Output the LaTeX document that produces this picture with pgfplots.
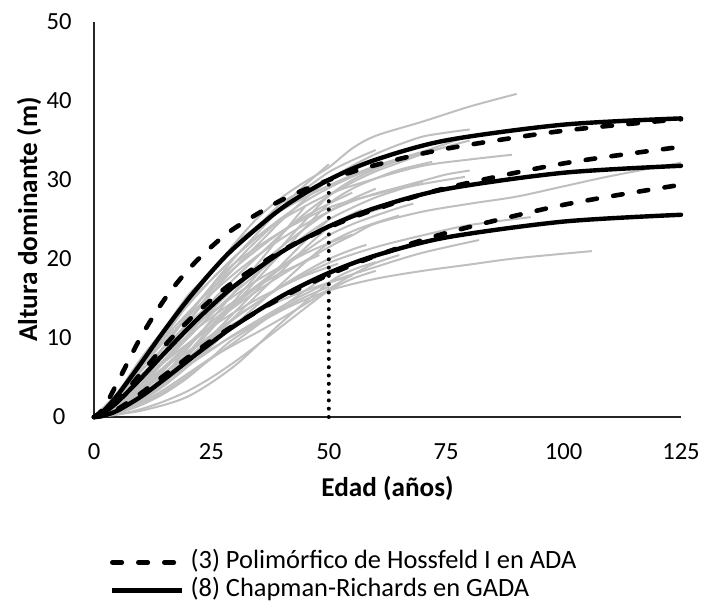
\documentclass[border=0pt]{standalone}
\usepackage{fontspec}
\setmainfont{Carlito}
\usepackage{pgfplots}
\pgfplotsset{compat=1.18}
\definecolor{grisc}{RGB}{191,191,191}
\begin{document}
\begin{tikzpicture}
\begin{axis}[
 at={(0,0)}, anchor=origin,
 scale only axis, width=293.5pt, height=197.5pt,
 xmin=0, xmax=125, ymin=0, ymax=50,
 axis x line=bottom, axis y line=left,
 axis line style={-, line width=0.8pt, black!85},
 xtick={0,25,...,125}, ytick={0,10,...,50},
 major tick length=0pt,
 /pgf/number format/assume math mode=true,
 ticklabel style={font=\fontsize{12.3}{15}\selectfont},
 xticklabel style={anchor=center, yshift=-17.5pt},
 yticklabel style={anchor=center, xshift=-17.5pt},
 xlabel={Edad (años)}, ylabel={Altura dominante (m)},
 label style={font=\bfseries\fontsize{13.6}{15}\selectfont},
 xlabel style={at={(axis description cs:0.5,-0.1797)}, anchor=center},
 ylabel style={at={(axis description cs:-0.1107,0.5)}, anchor=center},
 clip=false,
 legend style={at={(axis description cs:0.0273,-0.4036)}, anchor=west, draw=none, fill=none,
   inner sep=0pt, outer sep=0pt, font=\fontsize{13.2}{15}\selectfont, row sep=2pt,
   nodes={inner sep=0pt, text height=9pt, text depth=3pt},
   /tikz/every odd column/.append style={column sep=3pt}},
 legend cell align=left,
 legend image code/.code={\draw[#1] (0pt,0pt) -- (35pt,0pt);},
 gr/.style={grisc, line width=1pt, smooth, forget plot},
 hos/.style={black, line width=2.3pt, line cap=round, dash pattern=on 4.75pt off 8.25pt, smooth},
 cr/.style={black, line width=2.2pt, line cap=round, smooth},
]
% ---- individual profiles (grey) ----
\addplot[gr] coordinates {(0,0)(5,2.6)(10,6.3)(15,10.2)(20,14.3)(25,18.2)(30,22)(35,25.3)(40,27.8)(45,29.8)(50,31.6)(55,34)(60,35.6)(70,37.4)(80,39.3)(90,40.9)};
\addplot[gr] coordinates {(0,0)(5,3)(10,7)(15,11)(20,15)(25,18.5)(30,21.5)(35,24)(40,26.2)(50,29.3)(60,31.8)(70,33.6)(80,35.6)};
\addplot[gr] coordinates {(0,0)(5,1.5)(10,4.5)(15,8)(20,12)(25,16)(30,19.5)(35,22.5)(40,25)(50,28.2)(60,30.2)(70,31.8)(80,32.6)(89,33.2)};
\addplot[gr] coordinates {(0,0)(5,2)(10,5)(15,9)(20,13)(25,16.5)(30,19.5)(40,23.5)(50,26.5)(60,28.2)(70,29.5)(79,30.4)};
\addplot[gr] coordinates {(0,0)(5,1)(10,3)(15,6)(20,9)(25,11.5)(30,14)(40,18)(50,21.5)(55,23)(60,24.5)(70,26)(80,27)(90,27.9)(100,29.2)(110,30.5)(125,32.2)};
\addplot[gr] coordinates {(0,0)(5,1)(10,2.5)(15,5)(20,7.5)(25,10)(30,12.5)(40,16.5)(50,19.5)(60,21.5)(70,23)(80,24.3)(93,25.3)};
\addplot[gr] coordinates {(0,0)(5,0.5)(10,1.5)(15,3)(20,5)(25,7.5)(30,10)(40,13.5)(50,16)(60,17.5)(70,18.5)(80,19.3)(90,20.1)(106,21)};
\addplot[gr] coordinates {(0,0)(5,0.8)(10,2.5)(15,4.5)(20,6.5)(25,8.5)(30,10.5)(40,14)(50,17)(60,19)(70,20.8)(82,22.4)};
\addplot[gr] coordinates {(0,0)(10,0.8)(20,2.6)(30,6.5)(40,12)(50,17)(55,18.6)(60,19.6)};
\addplot[gr] coordinates {(0,0)(5,0.3)(10,1)(15,2)(20,3.3)(25,5)(30,7)(35,9.2)(40,11.5)(45,13.8)(50,16)(55,17.5)(60,18.5)};
\addplot[gr] coordinates {(0,0)(5,0.6)(10,1.8)(15,3.5)(20,5.5)(25,7.5)(30,9.2)(35,10.8)(40,12.5)(45,14.3)(50,16.2)(55,18)(60,19.5)(65,20.5)};
\addplot[gr] coordinates {(0,0)(5,3.1)(10,7.4)(15,11.2)(20,15.4)(25,18.4)(30,21.9)(35,24.3)(40,27.1)(45,28.9)(50,31)(55,32.5)(60,33.8)};
\addplot[gr] coordinates {(0,0)(5,1.8)(10,4.8)(15,8.4)(20,12)(25,15.6)(30,18.9)(35,21.9)(40,24.9)(45,27.6)(50,30)(55,31.8)(60,33.3)(65,34.5)(70,35.5)(75,36)(80,36.4)};
\addplot[gr] coordinates {(0,0)(5,2.9)(10,7)(15,10.7)(20,14.2)(25,17.4)(30,20.3)(35,22.9)(40,25.2)(45,27.3)(50,29)(55,30.4)(60,31.6)(65,32.5)(70,33.4)(75,34.2)};
\addplot[gr] coordinates {(0,0)(5,0.8)(10,2.5)(15,5)(20,8.1)(25,11.5)(30,14.8)(35,18.2)(40,21.6)(45,24.9)(50,28)(55,30)(60,31.4)(65,32.5)};
\addplot[gr] coordinates {(0,0)(5,1.7)(10,4.5)(15,7.8)(20,11.2)(25,14.6)(30,17.6)(35,20.4)(40,23.2)(45,25.8)(50,28)(55,29.7)(60,31.1)(65,32.2)(70,33.3)(75,34.2)(80,35)};
\addplot[gr] coordinates {(0,0)(5,2.7)(10,6.5)(15,10)(20,13.2)(25,16.2)(30,18.9)(35,21.3)(40,23.5)(45,25.4)(50,27)(55,28.4)};
\addplot[gr] coordinates {(0,0)(5,0.8)(10,2.4)(15,4.9)(20,7.8)(25,11.1)(30,14.3)(35,17.6)(40,20.8)(45,24)(50,27)(55,28.9)(60,30.2)(65,31.3)(72,32.3)};
\addplot[gr] coordinates {(0,0)(5,1.6)(10,4.2)(15,7.3)(20,10.4)(25,13.5)(30,16.4)(35,19)(40,21.6)(45,23.9)(50,26)(55,27.6)(60,28.9)};
\addplot[gr] coordinates {(0,0)(5,2.6)(10,6.2)(15,9.6)(20,12.7)(25,15.6)(30,18.2)(35,20.5)(40,22.6)(45,24.4)(50,26)(55,27.3)(60,28.3)(65,29.1)(70,29.9)(75,30.7)(80,31.2)};
\addplot[gr] coordinates {(0,0)(5,0.8)(10,2.3)(15,4.5)(20,7.3)(25,10.3)(30,13.3)(35,16.3)(40,19.3)(45,22.3)(50,25)};
\addplot[gr] coordinates {(0,0)(5,1.5)(10,4)(15,7)(20,10)(25,13)(30,15.8)(35,18.3)(40,20.8)(45,23)(50,25)(55,26.5)(60,27.8)(65,28.8)(70,29.8)};
\addplot[gr] coordinates {(0,0)(5,2.4)(10,5.8)(15,8.9)(20,11.8)(25,14.4)(30,16.8)(35,19)(40,20.9)(45,22.6)(50,24)(55,25.2)(60,26.2)(62,26.5)};
\addplot[gr] coordinates {(0,0)(5,0.7)(10,2.2)(15,4.3)(20,7)(25,9.8)(30,12.7)(35,15.6)(40,18.5)(45,21.4)(50,24)(55,25.7)(57,26.2)};
\addplot[gr] coordinates {(0,0)(5,1.4)(10,3.7)(15,6.4)(20,9.2)(25,12)(30,14.5)(35,16.8)(40,19.1)(45,21.2)};
\addplot[gr] coordinates {(0,0)(5,1.2)(10,3.4)(15,6.1)(20,9)(25,11.6)(30,14.2)(35,16.6)(40,18.9)(45,21)(50,23)(55,24.4)(60,25.5)(65,26.5)(68,27)};
\addplot[gr] coordinates {(0,0)(5,2.2)(10,5.3)(15,8.1)(20,10.8)(25,13.2)(30,15.4)(35,17.4)(40,19.1)(45,20.7)(50,22)(55,23.1)};
\addplot[gr] coordinates {(0,0)(5,0.7)(10,2)(15,4)(20,6.4)(25,9)(30,11.7)(35,14.3)(40,16.9)(45,19.6)(50,22)(55,23.5)(60,24.6)(65,25.5)};
\addplot[gr] coordinates {(0,0)(5,2.1)(10,5)(15,7.8)(20,10.3)(25,12.6)(30,14.7)(35,16.6)(40,18.3)(45,19.7)(48,20.5)};
\addplot[gr] coordinates {(0,0)(5,1.2)(10,3.2)(15,5.6)(20,8)(25,10.4)(30,12.6)(35,14.6)(40,16.6)(45,18.4)(50,20)(55,21.2)(58,21.8)};
\addplot[gr] coordinates {(0,0)(5,1.9)(10,4.6)(15,7)(20,9.3)(25,11.4)(30,13.3)(35,15)(40,16.5)(45,17.9)(50,19)(52,19.4)};
\addplot[gr] coordinates {(0,0)(5,0.5)(10,1.6)(15,3.2)(20,5.2)(25,7.4)(30,9.5)(35,11.7)(40,13.9)(45,16)(50,18)(55,19.3)(60,20.2)};
\addplot[gr] coordinates {(0,0)(5,1.7)(10,4.1)(15,6.3)(20,8.3)(25,10.2)(30,11.9)(35,13.4)(40,14.8)(45,16)(50,17)(55,17.9)};
\addplot[gr] coordinates {(0,0)(5,1)(10,2.6)(15,4.6)(20,6.6)(25,8.6)(30,10.4)(35,12)(40,13.7)(45,15.2)(50,16.5)};
\addplot[gr] coordinates {(0,0)(5,2.9)(10,7)(15,10.7)(20,14.2)(25,17.4)(30,20.3)(35,22.9)(40,25.2)(42,26)};
\addplot[gr] coordinates {(0,0)(5,0.9)(10,2.7)(15,5.4)(20,8.7)(25,12.3)(30,15.9)(35,19.5)(40,23.1)(45,26.7)};
\addplot[gr] coordinates {(0,0)(5,1.9)(10,5.1)(15,9)(20,12.8)(25,16.6)(30,20.2)(35,23.4)(40,26.6)(45,29.4)(50,32)};
% ---- reference line at 50 years ----
\addplot[black, line width=2pt, line cap=round, dash pattern=on 0pt off 4.15pt, forget plot] coordinates {(50,0)(50,29.8)};
% ---- (3) Hossfeld I ADA (dashed) ----
\addplot[hos, forget plot] coordinates {(0,0)(2,1.06)(5,4.37)(10,10.15)(15,14.88)(20,18.61)(25,21.55)(30,23.93)(40,27.48)(50,30)(60,31.9)(75,33.96)(100,36.24)(125,37.7)};
\addplot[hos, forget plot] coordinates {(0,0)(2,0.43)(5,2.03)(10,5.53)(15,9.01)(20,12.14)(25,14.86)(30,17.22)(40,21.05)(50,24)(60,26.31)(75,28.99)(100,32.1)(125,34.2)};
\addplot[hos, forget plot] coordinates {(0,0)(2,0.19)(5,0.99)(10,3)(15,5.28)(20,7.55)(25,9.69)(30,11.67)(40,15.13)(50,18)(60,20.39)(75,23.29)(100,26.86)(125,29.4)};
% ---- (8) Chapman-Richards GADA (solid) ----
\addplot[cr, forget plot] coordinates {(0,0)(2,0.76)(5,2.76)(10,6.8)(15,10.97)(20,14.87)(25,18.39)(30,21.48)(40,26.44)(50,30.03)(60,32.57)(75,35.02)(100,37.01)(125,37.8)};
\addplot[cr, forget plot] coordinates {(0,0)(2,0.5)(5,1.9)(10,4.9)(15,8.1)(20,11.19)(25,14.06)(30,16.64)(40,20.91)(50,24.12)(60,26.48)(75,28.86)(100,30.92)(125,31.8)};
\addplot[cr, forget plot] coordinates {(0,0)(2,0.16)(5,0.81)(10,2.58)(15,4.79)(20,7.12)(25,9.41)(30,11.57)(40,15.31)(50,18.24)(60,20.45)(75,22.73)(100,24.74)(125,25.6)};
\addlegendimage{black, line width=2.3pt, line cap=round, dash pattern=on 4.75pt off 8.25pt}
\addlegendentry{(3) Polimórfico de Hossfeld I en ADA}
\addlegendimage{black, line width=2.2pt}
\addlegendentry{(8) Chapman-Richards en GADA}
\end{axis}
\pgfresetboundingbox
\path[use as bounding box] (-47pt,-92pt) rectangle (304pt,208.5pt);
\end{tikzpicture}
\end{document}
